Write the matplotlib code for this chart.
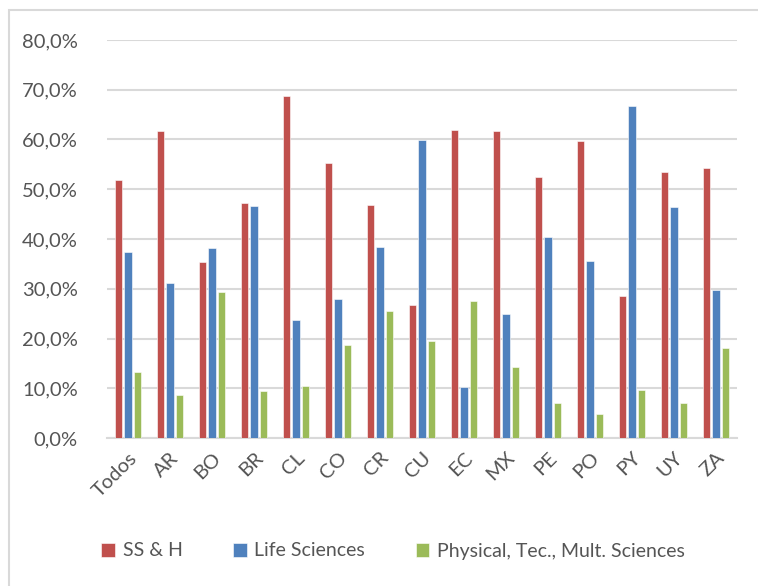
import numpy as np
import matplotlib.pyplot as plt
from matplotlib.patches import Rectangle
from matplotlib.ticker import FuncFormatter

plt.rcParams['font.family'] = ['Lato', 'DejaVu Sans']

# paises / categorias
cats = ["Todos", "AR", "BO", "BR", "CL", "CO", "CR", "CU", "EC", "MX", "PE", "PO", "PY", "UY", "ZA"]

# porcentajes por area
ssh = [51.9, 61.7, 35.3, 47.3, 68.8, 55.2, 46.8, 26.8, 62.0, 61.7, 52.4, 59.6, 28.5, 53.5, 54.3]
life = [37.4, 31.2, 38.2, 46.6, 23.7, 27.9, 38.3, 59.8, 10.3, 25.0, 40.4, 35.5, 66.7, 46.4, 29.7]
phys = [13.3, 8.6, 29.3, 9.4, 10.4, 18.7, 25.5, 19.5, 27.6, 14.3, 7.1, 4.8, 9.6, 7.1, 18.0]

names = ["SS & H", "Life Sciences", "Physical, Tec., Mult. Sciences"]
colors = ["#C0504D", "#4F81BD", "#9BBB59"]

fig = plt.figure(figsize=(7.58, 5.86), dpi=100)
ax = fig.add_axes([107 / 758, 1 - 438 / 586, 630 / 758, 398 / 586])

# borde del grafico (recortado a derecha y abajo)
fig.patches.append(Rectangle((9 / 758, -0.1), 1.2, 1 - 10 / 586 + 0.1,
                             transform=fig.transFigure, fill=False,
                             edgecolor="#D9D9D9", linewidth=1.5))

x = np.arange(len(cats))
w = 0.17
step = 0.22
for i, (vals, name, c) in enumerate(zip([ssh, life, phys], names, colors)):
    ax.bar(x + (i - 1) * step, vals, width=w, color=c, label=name,
           edgecolor="#FFFFFF", linewidth=0.4, zorder=3)

ax.set_xlim(-0.5, len(cats) - 0.5)
ax.set_ylim(0, 80)
ax.set_yticks(np.arange(0, 81, 10))
ax.yaxis.set_major_formatter(FuncFormatter(lambda v, p: f"{v:.1f}%".replace(".", ",")))
ax.grid(axis="y", color="#D9D9D9", linewidth=1.5, zorder=0)
for s in ["top", "right", "left"]:
    ax.spines[s].set_visible(False)
ax.spines["bottom"].set_color("#D9D9D9")
ax.spines["bottom"].set_linewidth(1.5)
ax.tick_params(axis="both", length=0, labelsize=14.5, colors="#555555")
ax.tick_params(axis="y", pad=21)

ax.set_xticks(x)
ax.set_xticklabels(cats, rotation=45, ha="right", va="top", rotation_mode="anchor")
ax.tick_params(axis="x", pad=8)

fig.legend(loc="center", bbox_to_anchor=(393 / 758, 1 - 551 / 586), ncol=3,
           frameon=False, fontsize=14, labelcolor="#555555",
           handlelength=0.7, handleheight=0.7, handletextpad=0.4, columnspacing=2.6)

fig.savefig("out.png", dpi=100)
